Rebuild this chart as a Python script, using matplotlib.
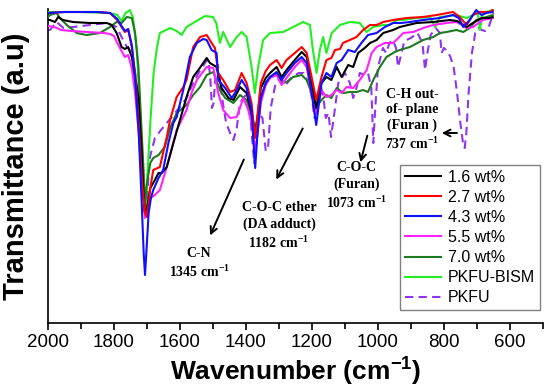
import matplotlib
matplotlib.use('Agg')
import matplotlib.pyplot as plt
from matplotlib.ticker import MultipleLocator

plt.rcParams['mathtext.fontset'] = 'custom'
plt.rcParams['mathtext.bf'] = 'Liberation Serif:bold'
plt.rcParams['mathtext.sf'] = 'Liberation Sans:bold'

# spectra (wavenumber cm-1, transmittance a.u.)
wn_16 = [2000, 1994, 1979, 1969, 1955, 1924, 1873, 1822, 1807, 1792, 1777, 1767, 1757, 1746, 1736, 1726, 1716, 1710,
         1706, 1700, 1690, 1676, 1665, 1655, 1640, 1620, 1600, 1580, 1560, 1540, 1519, 1509, 1489, 1474, 1453, 1438,
         1418, 1398, 1383, 1372, 1365, 1355, 1340, 1327, 1307, 1292, 1277, 1252, 1231, 1216, 1201, 1187, 1171, 1156,
         1141, 1125, 1110, 1090, 1075, 1060, 1040, 1024, 1004, 984, 954, 934, 883, 832, 782, 760, 731, 712, 686, 661,
         652]
t_16 = [303, 303, 301, 306, 303, 301, 300, 300, 298, 290, 276, 274, 276, 266, 246, 226, 170, 125,
        110, 115, 135, 143, 150, 150, 156, 180, 203, 226, 246, 255, 265, 260, 256, 235, 225, 223,
        236, 230, 210, 190, 205, 235, 245, 250, 256, 246, 253, 263, 271, 266, 240, 215, 240, 246,
        243, 256, 246, 258, 256, 270, 275, 280, 283, 290, 293, 296, 300, 301, 303, 302, 296, 300, 305, 305,
        306]

wn_27 = [2000, 1950, 1900, 1850, 1812, 1790, 1777, 1767, 1757, 1746, 1736, 1725, 1715, 1706, 1700, 1690, 1681, 1661,
         1640, 1630, 1610, 1590, 1580, 1560, 1539, 1519, 1504, 1494, 1484, 1469, 1448, 1433, 1413, 1398, 1383, 1377,
         1372, 1366, 1355, 1340, 1327, 1307, 1292, 1277, 1252, 1231, 1216, 1201, 1187, 1171, 1156, 1141, 1130, 1115,
         1106, 1085, 1065, 1045, 1024, 1004, 984, 954, 913, 863, 822, 772, 752, 731, 712, 691, 661, 652]
t_27 = [310, 311, 311, 311, 310, 303, 296, 291, 293, 276, 250, 200, 140, 110, 106, 135, 153, 156,
        186, 203, 226, 236, 243, 276, 286, 288, 280, 275, 250, 243, 231, 233, 250, 240, 220, 200,
        185, 205, 240, 252, 258, 263, 255, 263, 270, 276, 270, 246, 223, 246, 263, 265, 273, 274,
        280, 283, 286, 293, 298, 298, 301, 303, 305, 306, 308, 311, 306, 298, 308, 311, 311, 313]

wn_43 = [2000, 1950, 1900, 1850, 1812, 1790, 1777, 1767, 1757, 1746, 1736, 1725, 1716, 1710, 1706, 1702, 1695, 1688,
         1681, 1665, 1651, 1635, 1620, 1610, 1590, 1570, 1549, 1530, 1519, 1504, 1489, 1484, 1463, 1443, 1428, 1413,
         1398, 1383, 1377, 1372, 1366, 1355, 1340, 1327, 1307, 1292, 1277, 1252, 1231, 1216, 1201, 1187, 1171, 1156,
         1141, 1125, 1110, 1090, 1070, 1050, 1030, 1004, 979, 954, 930, 903, 863, 812, 772, 755, 741, 722, 702, 686,
         671, 652]
t_43 = [310, 311, 311, 311, 310, 304, 297, 292, 294, 278, 245, 190, 120, 70, 48, 70, 110, 125,
        133, 145, 153, 180, 200, 206, 233, 266, 280, 284, 283, 273, 270, 243, 235, 225, 233, 243,
        235, 213, 180, 155, 185, 225, 240, 246, 251, 243, 250, 260, 266, 260, 230, 198, 240, 250,
        246, 260, 263, 273, 271, 280, 288, 290, 296, 300, 300, 301, 303, 305, 308, 305, 296, 303, 313, 308,
        310, 311]

wn_55 = [2000, 1980, 1960, 1930, 1880, 1830, 1812, 1800, 1790, 1777, 1767, 1757, 1746, 1736, 1725, 1715, 1706, 1700,
         1690, 1676, 1661, 1640, 1610, 1580, 1565, 1549, 1519, 1499, 1484, 1469, 1448, 1428, 1408, 1393, 1380, 1372,
         1365, 1355, 1340, 1327, 1307, 1292, 1277, 1252, 1231, 1216, 1201, 1187, 1171, 1156, 1141, 1125, 1110, 1095,
         1075, 1055, 1034, 1019, 1004, 979, 954, 944, 923, 893, 863, 832, 792, 762, 745, 731, 712, 682, 652]
t_55 = [297, 296, 293, 292, 291, 290, 289, 287, 280, 272, 266, 268, 255, 230, 190, 140, 105, 110,
        125, 128, 133, 156, 193, 213, 230, 243, 256, 255, 230, 213, 205, 206, 225, 213, 195, 170,
        190, 220, 238, 245, 248, 238, 245, 256, 263, 256, 230, 210, 233, 226, 228, 233, 230, 236,
        235, 243, 253, 270, 276, 280, 280, 283, 290, 291, 295, 298, 300, 301, 298, 295, 296, 303, 305]

wn_70 = [2000, 1994, 1974, 1964, 1943, 1913, 1883, 1843, 1812, 1792, 1777, 1761, 1746, 1736, 1726, 1716, 1710, 1706,
         1700, 1690, 1681, 1665, 1646, 1630, 1610, 1580, 1560, 1539, 1519, 1499, 1479, 1463, 1438, 1418, 1398, 1385,
         1372, 1365, 1355, 1340, 1327, 1307, 1292, 1277, 1257, 1231, 1216, 1201, 1187, 1171, 1156, 1141, 1125, 1105,
         1085, 1065, 1045, 1030, 1014, 994, 974, 949, 934, 903, 863, 832, 812, 792, 762, 741, 722, 702, 671, 652]
t_70 = [306, 308, 310, 305, 298, 290, 288, 290, 296, 301, 300, 306, 305, 290, 256, 190, 150, 118,
        140, 160, 165, 168, 176, 195, 210, 218, 228, 236, 248, 251, 233, 225, 220, 228, 223, 210,
        193, 205, 225, 240, 246, 250, 240, 241, 246, 248, 243, 230, 216, 223, 228, 225, 235, 230,
        231, 231, 233, 231, 243, 256, 266, 271, 273, 276, 283, 286, 290, 291, 293, 291, 295, 303, 306, 308]

wn_bism = [2000, 1950, 1900, 1820, 1800, 1790, 1777, 1765, 1752, 1742, 1730, 1720, 1712, 1706, 1700, 1690, 1680,
           1670, 1661, 1630, 1610, 1595, 1580, 1555, 1524, 1500, 1490, 1479, 1469, 1448, 1428, 1413, 1398, 1383,
           1373, 1363, 1348, 1327, 1287, 1257, 1227, 1206, 1197, 1186, 1176, 1166, 1156, 1140, 1115, 1085, 1055,
           1034, 1015, 985, 964, 943, 924, 883, 842, 827, 812, 762, 731, 712, 697, 691, 682, 652]
t_bism = [311, 311, 311, 310, 309, 308, 302, 310, 313, 305, 270, 200, 130, 110, 140, 200, 250,
          275, 290, 295, 292, 288, 296, 301, 307, 306, 300, 280, 291, 276, 286, 291, 286, 256,
          230, 256, 283, 290, 291, 296, 301, 298, 273, 250, 273, 286, 270, 290, 298, 301, 300,
          291, 296, 298, 298, 303, 303, 305, 306, 296, 306, 308, 305, 308, 310, 293, 310, 313]

wn_pkfu = [2000, 1994, 1974, 1953, 1924, 1873, 1822, 1792, 1777, 1761, 1746, 1736, 1726, 1716, 1710, 1706, 1700,
           1691, 1676, 1660, 1640, 1600, 1580, 1560, 1540, 1520, 1514, 1508, 1503, 1498, 1492, 1485, 1478, 1470,
           1460, 1448, 1438, 1428, 1418, 1408, 1395, 1385, 1375, 1370, 1362, 1350, 1340, 1333, 1325, 1310, 1295,
           1280, 1260, 1240, 1225, 1210, 1200, 1192, 1185, 1175, 1165, 1158, 1150, 1142, 1132, 1120, 1110, 1100,
           1085, 1075, 1065, 1055, 1040, 1030, 1020, 1014, 1008, 1000, 985, 975, 965, 955, 945, 939, 932, 920,
           900, 880, 865, 857, 850, 840, 825, 812, 807, 800, 790, 780, 770, 760, 750, 742, 737, 732, 725, 715,
           705, 695, 685, 675, 665, 655, 650]
t_pkfu = [293, 293, 301, 295, 296, 298, 300, 296, 286, 276, 270, 250, 226, 160, 115, 108, 125,
          166, 185, 192, 200, 216, 225, 240, 252, 262, 263, 245, 215, 220, 250, 258, 240, 220,
          200, 190, 183, 195, 220, 225, 230, 200, 160, 175, 210, 205, 172, 175, 215, 240, 245,
          238, 246, 250, 250, 240, 225, 205, 215, 240, 225, 205, 210, 186, 210, 240, 245, 250,
          240, 225, 235, 250, 248, 250, 235, 180, 215, 255, 275, 270, 280, 283, 275, 256, 265, 282,
          285, 290, 280, 253, 270, 288, 295, 290, 270, 275, 272, 266, 255, 230, 200, 180, 175, 190, 230, 270,
          290, 295, 293, 292, 295, 305, 310]

fig = plt.figure(figsize=(5.5, 3.88), dpi=100)
ax = fig.add_axes([0.0873, 0.1675, 0.8997, 0.8093])

lw = 1.5
ax.plot(wn_pkfu, t_pkfu, color='#8f35f0', lw=lw, ls=(0, (4, 2.5)), label='PKFU', zorder=2)
ax.plot(wn_bism, t_bism, color='#22ee22', lw=lw, label='PKFU-BISM', zorder=3)
ax.plot(wn_70, t_70, color='#1e7a1e', lw=lw, label='7.0 wt%', zorder=4)
ax.plot(wn_55, t_55, color='#ff22ff', lw=lw, label='5.5 wt%', zorder=5)
ax.plot(wn_16, t_16, color='black', lw=lw, label='1.6 wt%', zorder=6)
ax.plot(wn_27, t_27, color='#ff0000', lw=lw, label='2.7 wt%', zorder=7)
ax.plot(wn_43, t_43, color='#1010ff', lw=lw, label='4.3 wt%', zorder=8)

ax.set_xlim(2000, 500)
ax.set_ylim(0, 314)
ax.set_yticks([])
ax.xaxis.set_major_locator(MultipleLocator(200))
ax.xaxis.set_minor_locator(MultipleLocator(100))
ax.tick_params(axis='x', which='both', direction='out', width=1.2, labelsize=13.5, pad=3)
ax.tick_params(axis='x', which='major', length=5)
ax.tick_params(axis='x', which='minor', length=4)
for lab in ax.get_xticklabels():
    lab.set_fontfamily('Liberation Sans')
for s in ['top', 'right']:
    ax.spines[s].set_visible(False)
for s in ['left', 'bottom']:
    ax.spines[s].set_linewidth(1.2)

ax.set_xlabel(r'Wavenumber (cm$^{\mathsf{-1}}$)', fontsize=19, fontweight='bold', family='Liberation Sans',
              labelpad=2)
ax.set_ylabel('Transmittance (a.u)', fontsize=21, fontweight='bold', family='Liberation Sans')
ax.yaxis.set_label_coords(-0.037, 0.5)

# annotations
tk = dict(fontsize=10, fontweight='bold', family='Liberation Serif', ha='center', va='center', linespacing=1.25)
ap = dict(arrowstyle='->', color='black', lw=1.4, mutation_scale=12)
ax.text(1542, 60, 'C-N\n1345 cm$^{\\mathbf{-1}}$', **tk)
ax.annotate('', xy=(1512, 85), xytext=(1403, 166), arrowprops=ap)
ax.text(1300, 97, 'C-O-C ether\n(DA adduct)\n1182 cm$^{\\mathbf{-1}}$', **tk)
ax.annotate('', xy=(1312, 141), xytext=(1224, 197), arrowprops=ap)
ax.text(1064, 137, 'C-O-C\n(Furan)\n1073 cm$^{\\mathbf{-1}}$', **tk)
ax.annotate('', xy=(1055, 158), xytext=(1030, 190), arrowprops=ap)
ax.text(897, 203, 'C-H out-\nof- plane\n(Furan )\n737 cm$^{\\mathbf{-1}}$', **tk)
ax.annotate('', xy=(815, 190), xytext=(752, 190), arrowprops=ap)

handles, labels = ax.get_legend_handles_labels()
order = ['1.6 wt%', '2.7 wt%', '4.3 wt%', '5.5 wt%', '7.0 wt%', 'PKFU-BISM', 'PKFU']
hmap = dict(zip(labels, handles))
leg = ax.legend([hmap[k] for k in order], order, loc='lower right', bbox_to_anchor=(0.994, 0.041),
                borderaxespad=0, handlelength=2.3, handletextpad=0.4, labelspacing=0.32,
                borderpad=0.3, fancybox=False, framealpha=1, edgecolor='#808080',
                prop={'family': 'Liberation Sans', 'size': 11.5})
leg.get_frame().set_linewidth(1.0)

fig.savefig('out.png', dpi=100)
